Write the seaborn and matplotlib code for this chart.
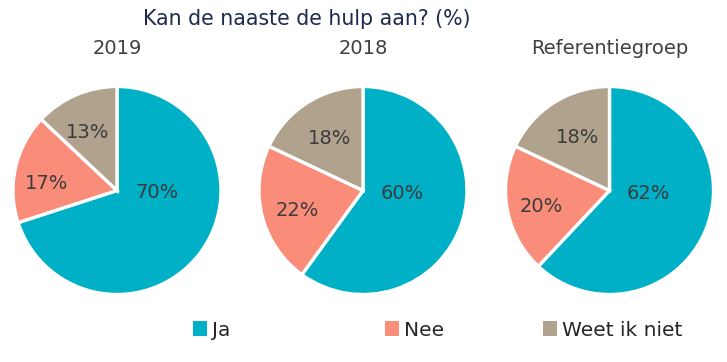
import matplotlib
matplotlib.use("Agg")
import matplotlib.pyplot as plt
import matplotlib.patches as mpatches
import seaborn as sns

# ---- data ----
categories = ["Ja", "Nee", "Weet ik niet"]
groups = ["2019", "2018", "Referentiegroep"]
values_2019 = [70, 17, 13]
values_2018 = [60, 22, 18]
values_ref = [62, 20, 18]
title = "Kan de naaste de hulp aan? (%)"

# ---- style ----
sns.set_theme(style="white")
plt.rcParams['font.family'] = ['DejaVu Sans']
colors = sns.color_palette(["#00B0C6", "#FA8C7A", "#B0A28D"])
text_col = "#404040"

W, H = 727, 362
fig = plt.figure(figsize=(W / 100, H / 100), dpi=100)

# layout (pixel centers, radius) and label positions in pie units
centers_x = [117, 363, 609.5]
center_y = 190.5
radius_px = 104
label_pos = [
    [(0.38, -0.02), (-0.68, 0.07), (-0.28, 0.56)],
    [(0.38, -0.03), (-0.63, -0.19), (-0.32, 0.50)],
    [(0.37, -0.03), (-0.66, -0.15), (-0.31, 0.51)],
]

all_values = [values_2019, values_2018, values_ref]
for i, (g, vals) in enumerate(zip(groups, all_values)):
    cx = centers_x[i]
    ax = fig.add_axes([(cx - radius_px) / W, (H - center_y - radius_px) / H,
                       2 * radius_px / W, 2 * radius_px / H])
    wedges, _ = ax.pie(vals, colors=colors, startangle=90, counterclock=False,
                       radius=1.0, wedgeprops=dict(edgecolor="white", linewidth=2.4))
    ax.set_xlim(-1.0, 1.0)
    ax.set_ylim(-1.0, 1.0)
    ax.set_aspect("auto")
    ax.axis("off")
    for v, (lx, ly) in zip(vals, label_pos[i]):
        ax.text(lx, ly, f"{v}%", ha="center", va="center", fontsize=14, color="#3c3c3c")
    fig.text(cx / W, 1 - 48 / H, g, ha="center", va="center", fontsize=14, color=text_col)

fig.text(307 / W, 1 - 19 / H, title, ha="center", va="center", fontsize=14.8,
         color="#1F2A50")

# legend entries
leg_x = [193, 385, 543]
for cat, col, lx in zip(categories, colors, leg_x):
    h = mpatches.Patch(facecolor=col, edgecolor="none")
    leg = fig.legend([h], [cat], loc="center left", bbox_to_anchor=(lx / W, 1 - 330 / H),
                     frameon=False, fontsize=14.5, handlelength=0.7, handleheight=0.7,
                     handletextpad=0.25, borderpad=0, borderaxespad=0)
    for t in leg.get_texts():
        t.set_color("#262626")

fig.savefig("out.png", dpi=100, facecolor="white")
